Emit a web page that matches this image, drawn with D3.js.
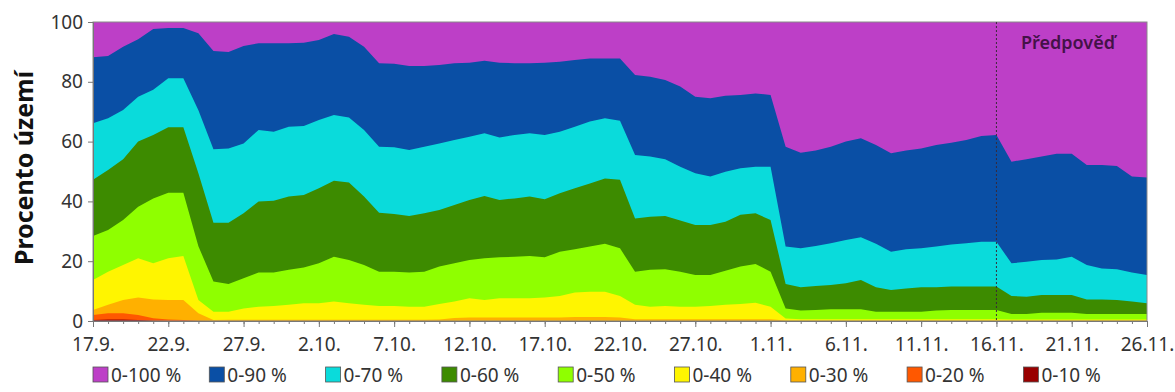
<!DOCTYPE html>
<html>
<head>
<meta charset="utf-8">
<script src="https://cdn.jsdelivr.net/npm/d3@7"></script>
<style>
  html, body { margin: 0; padding: 0; background: #fff; }
  svg { display: block; }
  text { font-family: "Noto Sans", "Open Sans", sans-serif; }
</style>
</head>
<body>
<svg id="chart" width="1175" height="392"></svg>
<script>
// ---- data (percent of territory, cumulative classes), one value per day 17.9. .. 26.11.
const tickLabels = ["17.9.","22.9.","27.9.","2.10.","7.10.","12.10.","17.10.","22.10.","27.10.","1.11.","6.11.","11.11.","16.11.","21.11.","26.11."];
const seriesNames = ["0-100 %","0-90 %","0-70 %","0-60 %","0-50 %","0-40 %","0-30 %","0-20 %","0-10 %"];
const seriesColors = ["#BD3FC7","#0A4FA5","#0ADBDB","#3D8B00","#8FFF00","#FFF500","#FFB000","#FF5800","#990000"];
const forecastStart = 60; // index of 16.11.
const forecastLabel = "Předpověď";
const yTicks = [0,20,40,60,80,100];

const p100 = Array(71).fill(100);
const p90 = [88.2,88.6,91.7,94.2,97.7,98,98,96.2,90.3,90,92,92.9,92.9,92.9,93.1,94,96,95.1,91.7,86.2,86,
  85.3,85.3,85.6,86.2,86.4,87,86.4,86.2,86.2,86.4,86.7,87.3,87.8,87.8,87.8,82.3,81.7,80.6,78.4,75,74.5,75.3,75.6,76.1,75.6,
  58.3,56.3,57,58.3,60,61.1,58.9,56.1,57,57.7,58.9,59.6,60.5,61.9,62.2,53.3,54.1,55,55.9,55.9,52.2,52.2,51.8,48.3,48];
const p70 = [66.1,67.8,70.6,75,77.3,81.2,81.2,70.5,57.4,57.7,59.4,63.9,63.3,65,65.2,67.2,68.9,68.1,63.9,58.3,58.1,
  57.2,58.3,59.4,60.5,61.6,62.8,61.4,62.2,62.8,62.2,63.3,65,66.7,67.8,67,55.5,55,54.1,51.6,49.4,48.3,49.9,51.1,51.6,51.6,
  24.9,24.3,25.1,26,27.1,28,25.8,23.2,24,24.3,24.9,25.6,26,26.5,26.5,19.3,19.8,20.4,20.6,21.5,18.7,17.6,17.3,16.2,15.4];
const p60 = [47.2,50.5,54.1,60,62.2,64.8,64.8,49.4,32.9,32.9,36,40,40.2,41.6,42.1,44.4,46.9,46.3,41.6,36.2,35.8,
  35.1,36,37.1,38.8,40.5,41.8,40.5,41,41.6,40.7,42.7,44.4,46,47.7,47.2,34.3,34.9,35.1,33.6,32.1,32.1,33.2,35.5,36,33.8,
  12.4,11.3,11.7,12,12.6,13.7,11.3,10.4,10.9,11.3,11.3,11.5,11.5,11.5,11.5,8.4,8.1,8.7,8.7,8.7,7.2,7.2,7,6.5,5.9];
const p50 = [28.4,30.4,33.8,38.2,41,42.9,42.9,25,13.2,12.4,14.3,16.2,16.2,17.1,17.9,19.3,21.5,20.4,18.7,16.5,16.5,
  16.2,16.5,18.2,19.3,20.4,21,21.3,21.5,21.7,21.3,23.2,24,24.9,25.8,24.3,16.5,17.1,17.3,16.5,15.4,15.4,16.8,18.2,19.1,16.5,
  4.2,3.5,3.7,3.9,3.9,3.9,3.1,3.1,3.1,3.1,3.5,3.7,3.7,3.7,3.7,2.3,2.3,2.8,2.8,2.8,2.3,2.3,2.3,2.3,2.3];
const p40 = [13.7,16.5,18.7,21,19.3,21,21.7,7,3.1,3.1,4.2,4.8,5,5.4,5.9,5.9,6.5,5.9,5.4,5,5,
  4.8,4.8,5.7,6.5,7.6,7,7.6,7.6,7.6,7.9,8.4,9.5,9.8,9.8,8.4,5.4,4.8,5,4.8,4.8,5,5.4,5.7,6.1,4.8,
  0.8,0.6,0.6,0.6,0.6,0.6,0.6,0.6,0.6,0.6,0.6,0.6,0.6,0.6,0.6,0.5,0.5,0.5,0.5,0.5,0.5,0.5,0.5,0.5,0.5];
const p30 = [3.7,5.4,7,7.9,7.2,7,7,2.6,0.3,0.4,0.4,0.4,0.4,0.4,0.4,0.4,0.4,0.4,0.4,0.4,0.4,
  0.4,0.4,0.5,1,1.2,1.2,1.2,1.2,1.2,1.2,1.2,1.3,1.3,1.3,1.2,0.6,0.6,0.6,0.6,0.6,0.6,0.6,0.6,0.6,0.6,
  0.2,0.2,0.2,0.2,0.2,0.2,0.2,0.2,0.2,0.2,0.2,0.2,0.2,0.2,0.2,0.2,0.2,0.2,0.2,0.2,0.2,0.2,0.2,0.2,0.2];
const p20 = [2,2.6,2.6,2,0.9,0.5,0.3,0.1,0,0,0,0,0,0,0,0,0,0,0,0,0,
  0,0,0,0,0,0,0,0,0,0,0,0,0,0,0,0,0,0,0,0,0,0,0,0,0,
  0,0,0,0,0,0,0,0,0,0,0,0,0,0,0,0,0,0,0,0,0,0,0,0,0];
const p10 = [0.3,0.5,0.5,0.3,0.1,0,0,0,0,0,0,0,0,0,0,0,0,0,0,0,0,
  0,0,0,0,0,0,0,0,0,0,0,0,0,0,0,0,0,0,0,0,0,0,0,0,0,
  0,0,0,0,0,0,0,0,0,0,0,0,0,0,0,0,0,0,0,0,0,0,0,0,0];
const seriesValues = [p100,p90,p70,p60,p50,p40,p30,p20,p10];

// ---- layout
const svg = d3.select("#chart");
const M = {left: 93, top: 22, right: 1147, bottom: 321};
const nDays = p90.length;
const x = d3.scaleLinear().domain([0, nDays - 1]).range([M.left, M.right]);
const y = d3.scaleLinear().domain([0, 100]).range([M.bottom, M.top]);

// areas (overlapping, largest first)
const area = d3.area().x((d, i) => x(i)).y0(y(0)).y1(d => y(d)).curve(d3.curveLinear);
seriesValues.forEach((vals, k) => {
  svg.append("path").datum(vals).attr("d", area).attr("fill", seriesColors[k]);
});

// plot border
svg.append("rect").attr("x", M.left).attr("y", M.top)
  .attr("width", M.right - M.left).attr("height", M.bottom - M.top)
  .attr("fill", "none").attr("stroke", "#8a8a8a").attr("stroke-width", 1);

// forecast separator
svg.append("line").attr("x1", x(forecastStart)).attr("x2", x(forecastStart))
  .attr("y1", y(100)).attr("y2", y(0))
  .attr("stroke", "#3a2a3a").attr("stroke-width", 1).attr("stroke-dasharray", "2,2");
svg.append("text").attr("x", 1068).attr("y", 49).attr("text-anchor", "middle")
  .attr("font-size", 18).attr("font-weight", 600).attr("fill", "#441248").text(forecastLabel);

// y axis
const yAxis = d3.axisLeft(y).tickValues(yTicks).tickSize(5).tickPadding(5);
const gy = svg.append("g").attr("transform", `translate(${M.left},0)`).call(yAxis);
gy.select(".domain").attr("stroke", "#777");
gy.selectAll(".tick line").attr("stroke", "#777");
gy.selectAll(".tick text").attr("font-size", 19).attr("fill", "#333")
  .attr("font-family", "'Noto Sans', sans-serif");

// x axis: minor ticks each day, major every 5 days with labels
const minor = d3.axisBottom(x).tickValues(d3.range(nDays)).tickSize(3).tickFormat("");
const gxm = svg.append("g").attr("transform", `translate(0,${M.bottom})`).call(minor);
gxm.select(".domain").attr("stroke", "#777");
gxm.selectAll(".tick line").attr("stroke", "#777");
const majorIdx = tickLabels.map((_, i) => i * 5);
const major = d3.axisBottom(x).tickValues(majorIdx).tickSize(6).tickPadding(11)
  .tickFormat((d, i) => tickLabels[i]);
const gx = svg.append("g").attr("transform", `translate(0,${M.bottom})`).call(major);
gx.select(".domain").remove();
gx.selectAll(".tick line").attr("stroke", "#777");
gx.selectAll(".tick text").attr("font-size", 19).attr("fill", "#333")
  .attr("font-family", "'Noto Sans', sans-serif");

// y title
svg.append("text").attr("transform", "translate(33,168) rotate(-90)")
  .attr("text-anchor", "middle").attr("font-size", 25).attr("font-weight", 700)
  .attr("fill", "#111").text("Procento území");

// legend
const legX0 = 93, legStep = 116.3, legY = 375;
seriesNames.forEach((name, k) => {
  const g = svg.append("g").attr("transform", `translate(${legX0 + k * legStep},${legY})`);
  g.append("rect").attr("x", 0).attr("y", -8).attr("width", 15).attr("height", 15)
    .attr("fill", seriesColors[k]).attr("stroke", "#555").attr("stroke-width", 0.8);
  g.append("text").attr("x", 18).attr("y", 0).attr("dy", "0.35em")
    .attr("font-size", 19).attr("fill", "#333").text(name);
});
</script>
</body>
</html>
